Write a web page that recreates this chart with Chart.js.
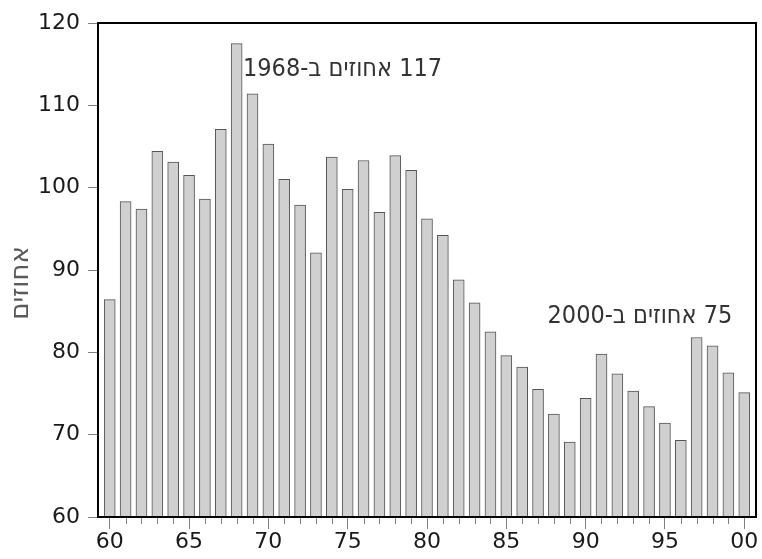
<!DOCTYPE html>
<html lang="he">
<head>
<meta charset="utf-8">
<script src="https://cdn.jsdelivr.net/npm/chart.js@4/dist/chart.umd.min.js"></script>
<style>
  html, body { margin: 0; padding: 0; background: #ffffff; }
  #wrap { width: 762px; height: 559px; }
</style>
</head>
<body>
<div id="wrap"><canvas id="c" width="762" height="559"></canvas></div>
<script>
// ---- data ----
const years = [1960,1961,1962,1963,1964,1965,1966,1967,1968,1969,
               1970,1971,1972,1973,1974,1975,1976,1977,1978,1979,
               1980,1981,1982,1983,1984,1985,1986,1987,1988,1989,
               1990,1991,1992,1993,1994,1995,1996,1997,1998,1999,2000];
const percents = [86.4,98.3,97.4,104.4,103.1,101.5,98.6,107.1,117.5,111.4,
                  105.3,101.0,97.9,92.1,103.7,99.8,103.3,97.0,103.9,102.1,
                  96.2,94.2,88.8,86.0,82.5,79.6,78.2,75.5,72.5,69.1,
                  74.4,79.8,77.4,75.3,73.4,71.4,69.3,81.8,80.8,77.5,75.1];
const yTicks = [60,70,80,90,100,110,120];
const yTitle = 'אחוזים';
const notes = [
  { text: '117 אחוזים ב-1968', x: 1968.4, y: 114.4, align: 'left' },
  { text: '75 אחוזים ב-2000', x: 1999.25, y: 84.4, align: 'right' }
];

const tickFont = { family: 'DejaVu Sans', size: 22 };

const framePlugin = {
  id: 'frame',
  afterDatasetsDraw(chart) {
    const { ctx, chartArea: a, scales } = chart;
    ctx.save();
    // minor x ticks
    ctx.strokeStyle = '#808080';
    ctx.lineWidth = 1;
    years.forEach(v => {
      if (v % 5 !== 0) {
        const px = Math.round(scales.x.getPixelForValue(v)) + 0.5;
        ctx.beginPath();
        ctx.moveTo(px, a.bottom);
        ctx.lineTo(px, a.bottom + 7);
        ctx.stroke();
      }
    });
    // box
    ctx.strokeStyle = '#000';
    ctx.lineWidth = 2;
    ctx.strokeRect(a.left, a.top, a.right - a.left, a.bottom - a.top);
    // notes
    ctx.fillStyle = '#333';
    ctx.font = '25px "Liberation Sans Narrow", "DejaVu Sans Condensed", sans-serif';
    ctx.direction = 'rtl';
    ctx.textBaseline = 'middle';
    notes.forEach(n => {
      ctx.textAlign = n.align;
      ctx.fillText(n.text, scales.x.getPixelForValue(n.x), scales.y.getPixelForValue(n.y));
    });
    // y title
    ctx.translate(21, (a.top + a.bottom) / 2 + 13);
    ctx.rotate(-Math.PI / 2);
    ctx.fillStyle = '#5a5a5a';
    ctx.font = '26px "DejaVu Sans", sans-serif';
    ctx.textAlign = 'center';
    ctx.fillText(yTitle, 0, 0);
    ctx.restore();
  }
};

new Chart(document.getElementById('c'), {
  type: 'bar',
  data: {
    datasets: [{
      data: years.map((y, i) => ({ x: y, y: percents[i] })),
      base: 60,
      backgroundColor: '#d0d0d0',
      borderColor: '#555555',
      borderWidth: 1,
      barThickness: 11
    }]
  },
  options: {
    responsive: false,
    animation: false,
    layout: { padding: { top: 23, right: 6, left: 0, bottom: 0 } },
    plugins: { legend: { display: false }, tooltip: { enabled: false } },
    scales: {
      x: {
        type: 'linear',
        offset: false,
        min: 1959.26,
        max: 2000.74,
        afterBuildTicks: s => { s.ticks = years.map(v => ({ value: v })); },
        afterFit: s => { s.height = 42; },
        border: { display: false },
        grid: {
          offset: false,
          drawOnChartArea: false,
          drawTicks: true,
          tickLength: 12,
          tickColor: c => (c.tick && c.tick.value % 5 === 0) ? '#808080' : 'rgba(0,0,0,0)'
        },
        ticks: {
          autoSkip: false,
          maxRotation: 0,
          padding: 0,
          color: '#1a1a1a',
          font: tickFont,
          callback: v => (v % 5 === 0) ? String(v % 100).padStart(2, '0') : ''
        }
      },
      y: {
        min: 60,
        max: 120,
        afterBuildTicks: s => { s.ticks = yTicks.map(v => ({ value: v })); },
        afterFit: s => { s.width = 98; },
        border: { display: false },
        grid: {
          drawOnChartArea: false,
          drawTicks: true,
          tickLength: 10,
          tickColor: '#808080'
        },
        ticks: {
          padding: 8,
          color: '#1a1a1a',
          font: tickFont
        }
      }
    }
  },
  plugins: [framePlugin]
});
</script>
</body>
</html>
